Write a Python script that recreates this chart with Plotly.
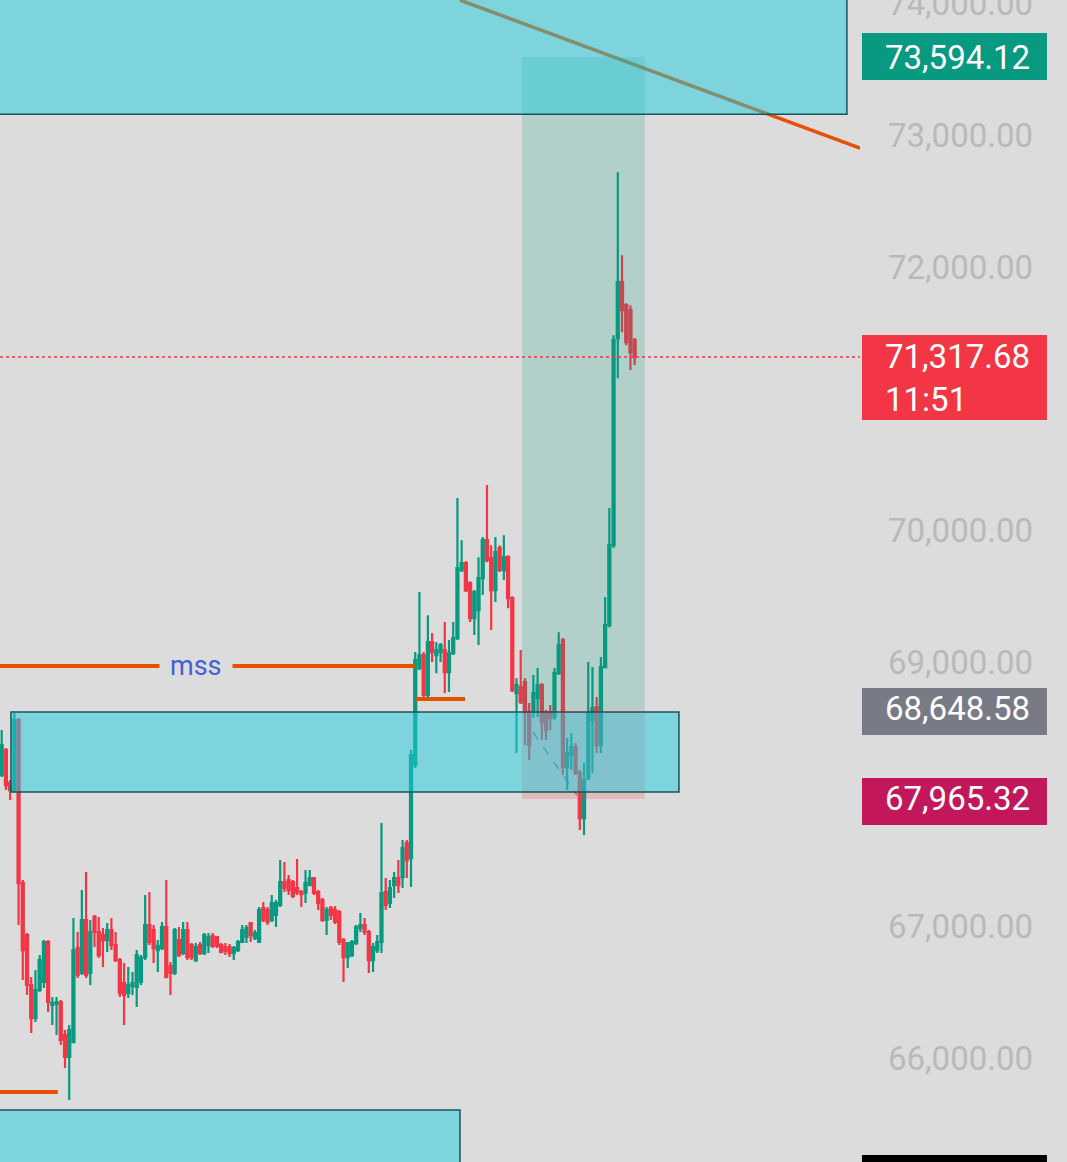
import plotly.graph_objects as go

# candle data (BTC, price in USD)
opens = [68147, 68336, 68086, 68033, 68564, 67327, 66933, 66554, 66303, 66516,
         66577, 66880, 66402, 66410, 66425, 66174, 66008, 66121, 66834, 66645,
         67047, 66645, 67070, 66956, 66933, 66895, 66971, 66857, 66743, 66569,
         66493, 66546, 66539, 66577, 66766, 67009, 66971, 66819, 66834, 66994,
         66698, 66645, 66895, 66796, 66971, 66857, 66743, 66857, 66796, 66857,
         66925, 66918, 66857, 66842, 66842, 66796, 66819, 66880, 66918, 67024,
         66910, 66880, 67138, 67123, 67047, 67085, 67161, 67335, 67350, 67335,
         67290, 67259, 67252, 67312, 67365, 67259, 67199, 67047, 67138, 67123,
         67107, 66895, 66766, 66781, 66872, 66986, 67009, 66956, 66743, 66819,
         66880, 67259, 67176, 67312, 67365, 67373, 67631, 67517, 68223, 68958,
         69057, 68754, 69156, 69057, 69080, 69095, 68928, 69072, 69186, 69702,
         69755, 69603, 69338, 69398, 69641, 69929, 69793, 69550, 69869, 69702,
         69800, 69489, 68769, 68814, 68852, 68625, 68640, 68731, 68829, 68617,
         68625, 68587, 68920, 69171, 68207, 68298, 68359, 68162, 67820, 68124,
         68564, 68662, 68374, 68966, 69284, 69891, 71462, 71886, 71712, 71674,
         71446]
highs = [68488, 68352, 68109, 68617, 68579, 67350, 66948, 66614, 66668, 66781,
         66895, 66895, 66463, 66463, 66440, 66212, 66250, 67062, 66956, 67274,
         67411, 67047, 67085, 67070, 66986, 67024, 67062, 66956, 66759, 66721,
         66690, 66652, 66819, 66781, 67236, 67259, 67009, 66895, 67032, 67350,
         66728, 66986, 66994, 67032, 67032, 66872, 66872, 66880, 66948, 66948,
         66948, 66925, 66872, 66872, 66865, 66850, 66895, 67009, 67009, 67032,
         66971, 67145, 67183, 67145, 67236, 67199, 67502, 67487, 67388, 67350,
         67510, 67274, 67426, 67426, 67373, 67274, 67214, 67145, 67153, 67153,
         67123, 66910, 66880, 66895, 67009, 67100, 67062, 66971, 66872, 66933,
         67783, 67365, 67350, 67411, 67502, 67654, 67654, 68336, 69080, 69535,
         69080, 69360, 69224, 69156, 69148, 69307, 69171, 69307, 70248, 69929,
         69770, 69618, 69550, 69800, 69952, 70347, 69891, 69952, 69891, 69967,
         69815, 69504, 68882, 69095, 68882, 68693, 68905, 68958, 68845, 68640,
         68678, 68958, 69231, 69186, 68427, 68465, 68389, 68185, 68238, 69004,
         68966, 68738, 69042, 69497, 70172, 71484, 72721, 72091, 71727, 71712,
         71462]
lows = [68132, 68033, 67957, 68018, 67009, 66592, 66478, 66190, 66273, 66501,
        66531, 66349, 66250, 66174, 66099, 65924, 65681, 66114, 66607, 66630,
        66607, 66554, 66842, 66759, 66690, 66804, 66819, 66728, 66463, 66250,
        66455, 66478, 66387, 66554, 66743, 66857, 66721, 66652, 66819, 66607,
        66478, 66630, 66766, 66781, 66743, 66743, 66728, 66781, 66781, 66796,
        66834, 66834, 66796, 66781, 66766, 66743, 66804, 66872, 66872, 66880,
        66895, 66872, 67032, 67009, 67032, 66994, 67145, 67259, 67236, 67214,
        67236, 67145, 67176, 67305, 67236, 67123, 67032, 66933, 67047, 67016,
        66857, 66577, 66683, 66766, 66857, 66956, 66933, 66645, 66652, 66796,
        66796, 67123, 67138, 67214, 67252, 67290, 67365, 67297, 68200, 68943,
        68738, 68738, 69004, 68920, 69004, 68769, 68776, 69057, 69171, 69687,
        69535, 69307, 69209, 69133, 69512, 69762, 69247, 69459, 69687, 69626,
        69413, 68776, 68314, 68685, 68374, 68260, 68579, 68587, 68412, 68412,
        68488, 68564, 68905, 68147, 68033, 68185, 68147, 67729, 67692, 68109,
        68162, 68314, 68314, 68958, 69269, 69869, 71158, 71507, 71408, 71219,
        71257]
closes = [68374, 68071, 68033, 68564, 67327, 66819, 66554, 66303, 66516, 66743,
          66880, 66425, 66417, 66425, 66137, 66008, 66212, 66819, 66630, 67047,
          66630, 66956, 66956, 66781, 66895, 66971, 66857, 66743, 66493, 66478,
          66554, 66569, 66781, 66759, 67009, 66880, 66834, 66850, 66994, 66614,
          66645, 66971, 66781, 66971, 66766, 66766, 66842, 66796, 66933, 66918,
          66850, 66850, 66804, 66812, 66796, 66834, 66880, 66971, 66986, 66933,
          66948, 67123, 67047, 67032, 67176, 67176, 67335, 67290, 67274, 67229,
          67259, 67244, 67327, 67365, 67252, 67176, 67047, 67123, 67085, 67032,
          66880, 66766, 66872, 66880, 66994, 67009, 66956, 66743, 66842, 66880,
          67252, 67161, 67290, 67365, 67312, 67593, 67502, 68298, 69019, 69057,
          68754, 69156, 69080, 69095, 69133, 68928, 69072, 69186, 69717, 69755,
          69550, 69338, 69535, 69641, 69929, 69778, 69550, 69838, 69702, 69800,
          69489, 68791, 68829, 68700, 68625, 68374, 68769, 68829, 68549, 68488,
          68579, 68920, 69133, 68207, 68314, 68359, 68162, 67820, 68109, 68617,
          68655, 68374, 68966, 69284, 69891, 71446, 71886, 71674, 71431, 71355,
          71317.68]
bars = list(range(len(closes)))

# price axis
shown_ticks = [66000, 67000, 69000, 70000, 72000, 73000, 74000]

# drawings (bar index, price)
zone_top = dict(x0=-5, x1=200.3, y0=73161, y1=74600)
zone_mid = dict(x0=2.2, x1=160.5, y0=68018, y1=68625)
zone_low = dict(x0=-5, x1=108.6, y0=64500, y1=65606)
mss_line = dict(x0=-5, x1=97.9, y=68974)
mss_text_x = 46.0
low_line = dict(x0=98.2, x1=109.8, y=68723)
old_low_line = dict(x0=-5, x1=13.3, y=65742)
trend_line = dict(x0=108.6, y0=74027, x1=203.4, y1=72903)
trade_path = dict(x0=125.9, y0=68473, x1=136.3, y1=67995)
pos_x0, pos_x1 = 123.3, 152.4
target, entry, stop = 73594.12, 68648.58, 67965.32
last_price = 71317.68
countdown = '11:51'

BG = '#dcdcdc'
UP = '#089981'
DOWN = '#f23645'
ORANGE = '#e65100'
ZONE_FILL = 'rgba(31,203,219,0.5)'
ZONE_EDGE = '#17545c'

fig = go.Figure(go.Candlestick(
    x=bars, open=opens, high=highs, low=lows, close=closes,
    increasing=dict(line=dict(color=UP, width=2.2), fillcolor=UP),
    decreasing=dict(line=dict(color=DOWN, width=2.2), fillcolor=DOWN),
    whiskerwidth=0,
    hoverinfo='skip',
))

shapes = []


def hline(d, width=4):
    shapes.append(dict(type='line', xref='x', yref='y', x0=d['x0'], x1=d['x1'],
                       y0=d['y'], y1=d['y'], layer='above',
                       line=dict(color=ORANGE, width=width)))


hline(mss_line)
hline(low_line)
hline(old_low_line)
shapes.append(dict(type='line', xref='x', yref='y', layer='above',
                   x0=trend_line['x0'], y0=trend_line['y0'],
                   x1=trend_line['x1'], y1=trend_line['y1'],
                   line=dict(color=ORANGE, width=3.5)))

# long position box
shapes.append(dict(type='rect', xref='x', yref='y', x0=pos_x0, x1=pos_x1,
                   y0=entry, y1=target, layer='above', line_width=0,
                   fillcolor='rgba(8,153,129,0.2)'))
shapes.append(dict(type='rect', xref='x', yref='y', x0=pos_x0, x1=pos_x1,
                   y0=stop, y1=entry, layer='above', line_width=0,
                   fillcolor='rgba(242,54,69,0.2)'))
shapes.append(dict(type='line', xref='x', yref='y', layer='above',
                   x0=trade_path['x0'], y0=trade_path['y0'],
                   x1=trade_path['x1'], y1=trade_path['y1'],
                   line=dict(color='rgba(90,90,120,0.7)', width=1.5, dash='dash')))

for z in (zone_top, zone_mid, zone_low):
    shapes.append(dict(type='rect', xref='x', yref='y', layer='above',
                       x0=z['x0'], x1=z['x1'], y0=z['y0'], y1=z['y1'],
                       fillcolor=ZONE_FILL, line=dict(color=ZONE_EDGE, width=1.5)))

# last price line
shapes.append(dict(type='line', xref='paper', yref='y', x0=0, x1=1,
                   y0=last_price, y1=last_price, layer='above',
                   line=dict(color=DOWN, width=1.5, dash='dot')))

# price badges on the scale
badges = [(target, UP, -23, 24, '73,594.12'),
          (last_price, DOWN, -63, 22, '71,317.68<br>' + countdown),
          (entry, '#787b86', -26, 21, '68,648.58'),
          (stop, '#c2185b', -26, 21, '67,965.32')]
annotations = []
for price, color, lo, hi, label in badges:
    shapes.append(dict(type='rect', xref='paper', yref='y', ysizemode='pixel',
                       yanchor=price, y0=lo, y1=hi, x0=1.0023, x1=1.2174,
                       fillcolor=color, line_width=0, layer='above'))
    two = '<br>' in label
    annotations.append(dict(xref='paper', yref='y', x=1.027, y=price,
                            xanchor='left', yanchor='top' if two else 'middle',
                            yshift=22 if two else 0, text=label, showarrow=False,
                            align='left',
                            font=dict(family='Roboto', size=33, color='white')))
shapes.append(dict(type='rect', xref='paper', yref='paper', x0=1.0023, x1=1.2174,
                   y0=-0.01, y1=0.006, fillcolor='black', line_width=0))

annotations.append(dict(xref='x', yref='y', x=mss_text_x, y=mss_line['y'],
                        text='mss', showarrow=False, bgcolor=BG, borderpad=10,
                        font=dict(family='Roboto', size=27, color='#4360d8')))

fig.update_layout(
    width=1067, height=1162,
    margin=dict(l=0, r=207, t=0, b=0, pad=0),
    paper_bgcolor=BG, plot_bgcolor=BG,
    showlegend=False,
    shapes=shapes,
    annotations=annotations,
    xaxis=dict(visible=False, range=[-0.4, 203.4], rangeslider=dict(visible=False)),
    yaxis=dict(side='right', range=[65211, 74027], tickvals=shown_ticks,
               tickformat=',.2f', showgrid=False, zeroline=False, showline=False,
               ticks='', ticklabelstandoff=27, automargin=False,
               ticklabeloverflow='allow',
               tickfont=dict(family='Roboto', size=33, color='#b9b9b9')),
)

fig.write_html('out.html', config=dict(displayModeBar=False),
               post_script="document.body.style.margin='0';")
